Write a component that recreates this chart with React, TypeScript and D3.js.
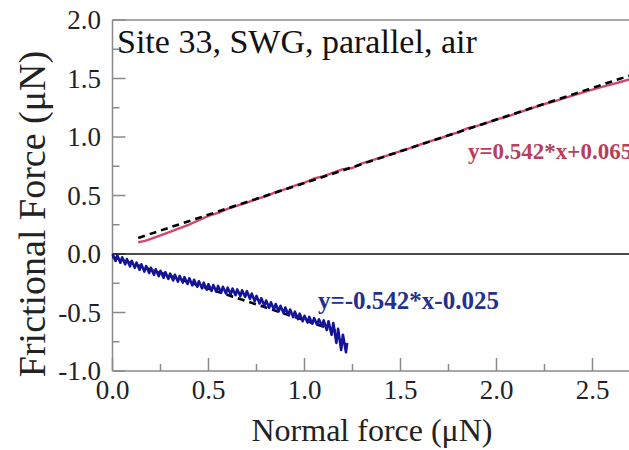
import React from "react";
import * as d3 from "d3";

const TITLE = "Site 33, SWG, parallel, air";
const X_LABEL = "Normal force (μN)";
const Y_LABEL = "Frictional Force (μN)";

const xMajorTicks = [0, 0.5, 1.0, 1.5, 2.0, 2.5];
const xMinorTicks = [0.25, 0.75, 1.25, 1.75, 2.25, 2.75];
const xTickLabels = ["0.0", "0.5", "1.0", "1.5", "2.0", "2.5"];
const yMajorTicks = [-1.0, -0.5, 0, 0.5, 1.0, 1.5, 2.0];
const yMinorTicks = [-0.75, -0.25, 0.25, 0.75, 1.25, 1.75];
const yTickLabels = ["-1.0", "-0.5", "0.0", "0.5", "1.0", "1.5", "2.0"];

// parallel (positive) friction trace
const redX = [0.134, 0.17, 0.2, 0.25, 0.3, 0.35, 0.4, 0.45, 0.5, 0.55, 0.6, 0.65, 0.7, 0.75, 0.8, 0.85, 0.9, 0.95, 1.0, 1.05, 1.1, 1.15, 1.2, 1.25, 1.3, 1.35, 1.4, 1.45, 1.5, 1.55, 1.6, 1.65, 1.7, 1.75, 1.8, 1.85, 1.9, 1.95, 2.0, 2.05, 2.1, 2.15, 2.2, 2.25, 2.3, 2.35, 2.4, 2.45, 2.5, 2.55, 2.6, 2.65, 2.7, 2.8];
const redY = [0.100, 0.112, 0.130, 0.160, 0.190, 0.222, 0.252, 0.290, 0.325, 0.352, 0.385, 0.414, 0.440, 0.470, 0.495, 0.528, 0.555, 0.585, 0.610, 0.645, 0.665, 0.695, 0.725, 0.735, 0.775, 0.800, 0.825, 0.852, 0.880, 0.905, 0.935, 0.962, 0.985, 1.015, 1.040, 1.075, 1.095, 1.120, 1.150, 1.172, 1.200, 1.228, 1.255, 1.282, 1.305, 1.330, 1.355, 1.382, 1.405, 1.428, 1.450, 1.472, 1.495, 1.540];

// anti-parallel (negative) friction trace, stick-slip teeth
const blueX = [0.000, 0.016, 0.025, 0.041, 0.050, 0.066, 0.075, 0.091, 0.100, 0.116, 0.125, 0.141, 0.150, 0.166, 0.175, 0.191, 0.200, 0.216, 0.225, 0.241, 0.250, 0.266, 0.275, 0.291, 0.300, 0.316, 0.325, 0.341, 0.350, 0.366, 0.375, 0.391, 0.400, 0.416, 0.425, 0.441, 0.450, 0.466, 0.475, 0.491, 0.500, 0.516, 0.525, 0.541, 0.550, 0.566, 0.575, 0.591, 0.600, 0.616, 0.625, 0.641, 0.650, 0.666, 0.675, 0.691, 0.700, 0.716, 0.725, 0.741, 0.750, 0.766, 0.775, 0.791, 0.800, 0.816, 0.825, 0.841, 0.850, 0.866, 0.875, 0.891, 0.900, 0.916, 0.925, 0.941, 0.950, 0.966, 0.975, 0.991, 1.000, 1.016, 1.025, 1.041, 1.050, 1.066, 1.075, 1.091, 1.100, 1.116, 1.125, 1.141, 1.150, 1.166, 1.175, 1.191, 1.200, 1.216, 1.222];
const blueY = [0.000, -0.060, -0.013, -0.075, -0.028, -0.088, -0.043, -0.105, -0.058, -0.118, -0.073, -0.135, -0.088, -0.150, -0.103, -0.163, -0.118, -0.178, -0.130, -0.190, -0.143, -0.203, -0.155, -0.213, -0.168, -0.226, -0.178, -0.236, -0.188, -0.244, -0.198, -0.256, -0.208, -0.268, -0.220, -0.280, -0.233, -0.293, -0.245, -0.305, -0.258, -0.315, -0.265, -0.322, -0.273, -0.330, -0.280, -0.337, -0.288, -0.345, -0.295, -0.352, -0.303, -0.360, -0.310, -0.367, -0.318, -0.383, -0.338, -0.403, -0.358, -0.423, -0.378, -0.443, -0.398, -0.460, -0.413, -0.475, -0.428, -0.490, -0.443, -0.505, -0.458, -0.521, -0.475, -0.539, -0.493, -0.556, -0.510, -0.574, -0.528, -0.586, -0.538, -0.596, -0.548, -0.606, -0.558, -0.616, -0.568, -0.650, -0.575, -0.690, -0.590, -0.760, -0.640, -0.820, -0.690, -0.840, -0.760];

// linear fits
const redFit = { slope: 0.542, intercept: 0.065, xStart: 0.134, xEnd: 2.9, label: "y=0.542*x+0.065" };
const blueFit = { slope: -0.542, intercept: -0.025, xStart: 0.0, xEnd: 1.18, label: "y=-0.542*x-0.025" };

const W = 629;
const H = 450;

export default function App() {
  const x = d3.scaleLinear().domain([0, 3]).range([112.5, 688.5]);
  const y = d3.scaleLinear().domain([-1, 2]).range([371, 20]);
  const line = d3
    .line<[number, number]>()
    .x((d) => x(d[0]))
    .y((d) => y(d[1]));

  const redPts: [number, number][] = redX.map((v, i) => [v, redY[i]]);
  const bluePts: [number, number][] = blueX.map((v, i) => [v, blueY[i]]);
  const fitPts = (f: typeof redFit): [number, number][] => [
    [f.xStart, f.slope * f.xStart + f.intercept],
    [f.xEnd, f.slope * f.xEnd + f.intercept],
  ];

  const font = "'Liberation Serif', 'Times New Roman', serif";
  const axisColor = "#8a8a8a";
  const x0 = x(0);
  const yBottom = y(-1);
  const yTop = y(2);

  return (
    <svg
      width={W}
      height={H}
      style={{ position: "absolute", left: 0, top: 0, background: "#fff" }}
      fontFamily={font}
    >
      <rect x={0} y={0} width={W} height={H} fill="#fff" />
      {/* frame */}
      <line x1={x0} x2={W + 10} y1={yTop} y2={yTop} stroke={axisColor} strokeWidth={1.5} />
      <line x1={x0} x2={W + 10} y1={yBottom} y2={yBottom} stroke={axisColor} strokeWidth={1.5} />
      <line x1={x0} x2={x0} y1={yTop} y2={yBottom} stroke={axisColor} strokeWidth={1.5} />
      {/* x ticks */}
      {xMajorTicks.map((t) => (
        <line key={"xm" + t} x1={x(t)} x2={x(t)} y1={yBottom} y2={yBottom - 13} stroke={axisColor} strokeWidth={1.5} />
      ))}
      {xMinorTicks.map((t) => (
        <line key={"xn" + t} x1={x(t)} x2={x(t)} y1={yBottom} y2={yBottom - 7} stroke={axisColor} strokeWidth={1.5} />
      ))}
      {/* y ticks */}
      {yMajorTicks.map((t) => (
        <line key={"ym" + t} x1={x0} x2={x0 + 13} y1={y(t)} y2={y(t)} stroke={axisColor} strokeWidth={1.5} />
      ))}
      {yMinorTicks.map((t) => (
        <line key={"yn" + t} x1={x0} x2={x0 + 7} y1={y(t)} y2={y(t)} stroke={axisColor} strokeWidth={1.5} />
      ))}
      {/* zero line */}
      <line x1={x0} x2={W + 10} y1={y(0)} y2={y(0)} stroke="#111" strokeWidth={1.6} />
      {/* tick labels */}
      {xMajorTicks.map((t, i) => (
        <text key={"xl" + t} x={x(t)} y={399} textAnchor="middle" fontSize={27} fill="#222">
          {xTickLabels[i]}
        </text>
      ))}
      {yMajorTicks.map((t, i) => (
        <text key={"yl" + t} x={101} y={y(t) + 9} textAnchor="end" fontSize={27} fill="#222">
          {yTickLabels[i]}
        </text>
      ))}
      {/* data */}
      <path d={line(redPts) || ""} fill="none" stroke="#d2476a" strokeWidth={2.4} strokeLinejoin="round" />
      <path d={line(fitPts(redFit)) || ""} fill="none" stroke="#000" strokeWidth={2.6} strokeDasharray="7,5" />
      <path d={line(fitPts(blueFit)) || ""} fill="none" stroke="#000" strokeWidth={2.6} strokeDasharray="7,5" />
      <path d={line(bluePts) || ""} fill="none" stroke="#14149a" strokeWidth={2.6} strokeLinejoin="round" />
      {/* annotations */}
      <text x={468} y={159} fontSize={23} fontWeight="bold" fill="#b83e5c">
        {redFit.label}
      </text>
      <text x={318} y={309} fontSize={25} fontWeight="bold" fill="#23308f">
        {blueFit.label}
      </text>
      <text x={117} y={53} fontSize={34} fill="#111">
        {TITLE}
      </text>
      {/* axis titles */}
      <text x={372} y={441} textAnchor="middle" fontSize={32} fill="#222">
        {X_LABEL}
      </text>
      <text transform="translate(45,214) rotate(-90)" textAnchor="middle" fontSize={38} fill="#222">
        {Y_LABEL}
      </text>
    </svg>
  );
}
